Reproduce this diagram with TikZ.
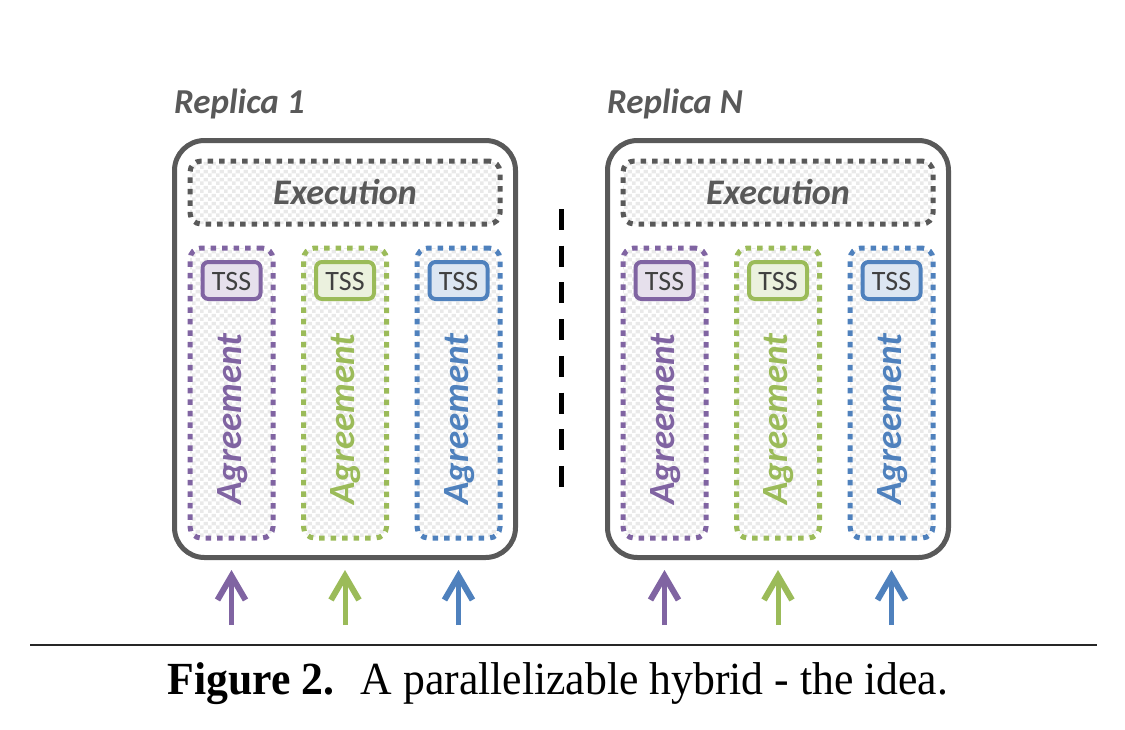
\documentclass[tikz,border=0pt]{standalone}
\usepackage{fontspec}
\setmainfont{Liberation Serif}
\newfontfamily\calfont{Carlito}
\usetikzlibrary{arrows.meta,patterns.meta}
\definecolor{dgray}{HTML}{595959}
\definecolor{tgray}{HTML}{404040}
\definecolor{cpurple}{HTML}{8064A2}
\definecolor{cgreen}{HTML}{9BBB59}
\definecolor{cblue}{HTML}{4F81BD}
\definecolor{tpurple}{HTML}{E6E0EC}
\definecolor{tgreen}{HTML}{EBF1DE}
\definecolor{tblue}{HTML}{DCE6F2}
\definecolor{chk}{HTML}{E9E9E9}
\tikzdeclarepattern{
  name=checker,
  type=colored,
  bottom left={(0pt,0pt)},
  top right={(8pt,8pt)},
  tile size={(8pt,8pt)},
  code={
    \fill[chk] (0pt,0pt) rectangle (4pt,4pt);
    \fill[chk] (4pt,4pt) rectangle (8pt,8pt);
  }
}
\tikzset{
  outerbox/.style={draw=dgray, line width=5pt, rounded corners=30pt, minimum width=341pt, minimum height=417pt, inner sep=0pt},
  dotbox/.style={line width=5pt, dash pattern=on 5.5pt off 6pt, fill=white, pattern=checker, rounded corners=11pt, inner sep=0pt},
  execbox/.style={dotbox, draw=dgray, minimum width=310pt, minimum height=63pt},
  colbox/.style={dotbox, draw=#1, minimum width=83pt, minimum height=290pt},
  tssbox/.style={draw=#1, line width=4pt, rounded corners=6pt, minimum width=58pt, minimum height=37pt, inner sep=0pt},
  tsstext/.style={font=\calfont\fontsize{28}{30}\selectfont, text=tgray, anchor=base},
  agtext/.style={font=\calfont\bfseries\itshape\fontsize{37}{40}\selectfont, text=#1, rotate=90},
  rlabel/.style={font=\calfont\bfseries\itshape\fontsize{35}{38}\selectfont, text=dgray, anchor=base west, inner sep=0pt},
  extext/.style={font=\calfont\bfseries\itshape\fontsize{36}{40}\selectfont, text=dgray, anchor=base, inner sep=0pt},
  arr/.style={draw=#1, line width=5pt, -{Straight Barb[length=24pt,width=28pt,line width=6pt]}},
  divider/.style={draw=black, line width=5pt, dash pattern=on 21pt off 15.7pt},
}
\begin{document}
\begin{tikzpicture}[x=1pt,y=-1pt]
\useasboundingbox (0,0) rectangle (1125,729);
\foreach \dx/\s/\lab in {0/L/Replica 1, 433/R/Replica N}{
  \node[rlabel] (label\s) at (174+\dx,113) {\lab};
  \node[outerbox] (outer\s) at (345+\dx,349) {};
  \node[execbox] (exec\s) at (345+\dx,192.5) {};
  \node[extext] (extext\s) at (345+\dx,204) {Execution};
  \foreach \cx/\c/\k in {231.5/purple/1, 345/green/2, 458.5/blue/3}{
    \node[colbox=c\c] (col\s\k) at (\cx+\dx,393) {};
    \node[tssbox=c\c, fill=t\c] (tss\s\k) at (\cx+\dx,280.5) {};
    \node[tsstext] (tsst\s\k) at (\cx+\dx,290) {TSS};
    \node[agtext=c\c] (ag\s\k) at (\cx+\dx+1,419) {Agreement};
    \coordinate (pa\s\k) at (\cx+\dx,625);
    \coordinate (pb\s\k) at (\cx+\dx,570);
    \draw[arr=c\c] (pa\s\k) -- (pb\s\k);
  }
}
\coordinate (d1) at (561,209);
\coordinate (d2) at (561,487);
\draw[divider] (d1) -- (d2);
\coordinate (rule1) at (30,645);
\coordinate (rule2) at (1097,645);
\draw[line width=2pt, draw=black!85] (rule1) -- (rule2);
\node[anchor=base, inner sep=0pt, font=\fontsize{46}{50}\selectfont, xscale=0.95] (caption) at (558,694) {\textbf{Figure 2.}\hspace{0.6em}A parallelizable hybrid - the idea.};
\end{tikzpicture}
\end{document}
